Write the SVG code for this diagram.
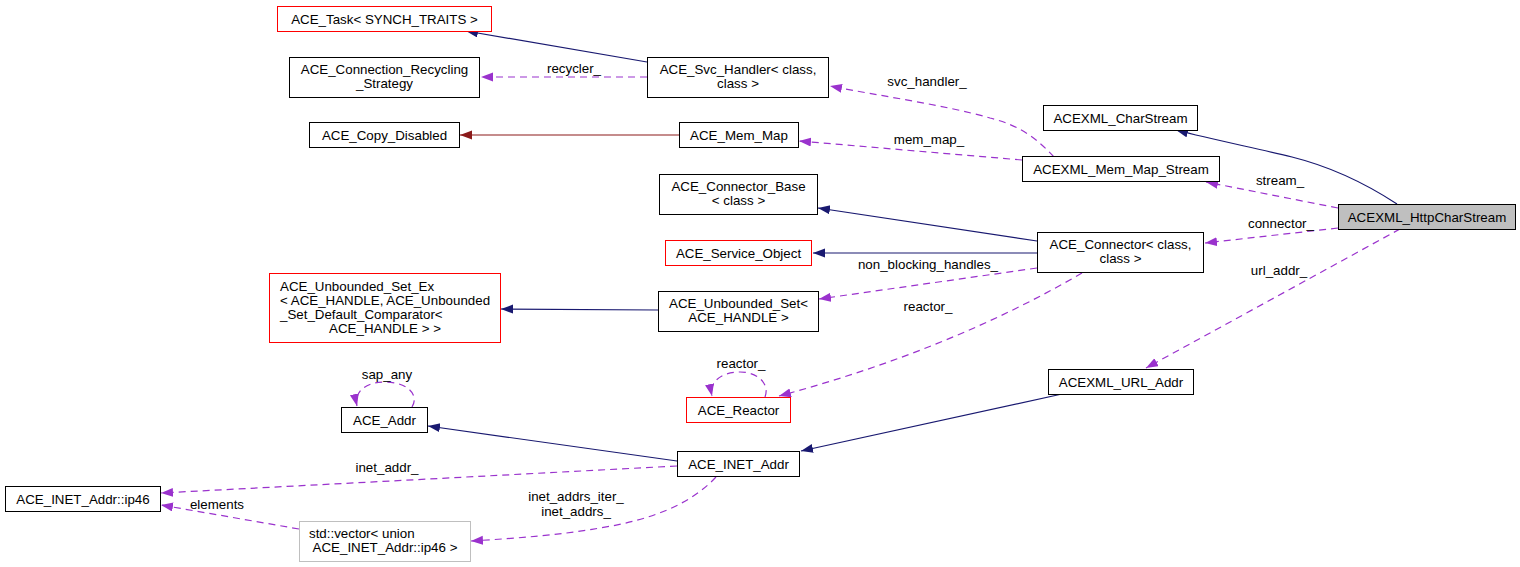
<svg xmlns="http://www.w3.org/2000/svg" width="1520" height="567" viewBox="0 0 1520 567">
<style>
  text { font-family: "Liberation Sans", Arial, sans-serif; font-size: 13.33px; fill: #000; }
  .c { text-anchor: middle; }
  .n rect { fill: #fff; stroke: #000; stroke-width: 1; }
  .n.red rect { stroke: #ff0000; }
  .n.gray rect { stroke: #bfbfbf; }
  .n.cur rect { fill: #bfbfbf; }
  .e { fill: none; stroke-width: 1.2; }
  .inh { stroke: #191970; marker-end: url(#aNavy); }
  .priv { stroke: #8b1a1a; marker-end: url(#aRed); }
  .use { stroke: #9a32cd; stroke-dasharray: 7,5; marker-end: url(#aPurple); }
</style>
<defs>
  <marker id="aNavy" markerUnits="userSpaceOnUse" markerWidth="14" markerHeight="10" refX="12" refY="4.5" orient="auto">
    <path d="M0,0 L12,4.5 L0,9 z" fill="#191970"/>
  </marker>
  <marker id="aRed" markerUnits="userSpaceOnUse" markerWidth="14" markerHeight="10" refX="12" refY="4.5" orient="auto">
    <path d="M0,0 L12,4.5 L0,9 z" fill="#8b1a1a"/>
  </marker>
  <marker id="aPurple" markerUnits="userSpaceOnUse" markerWidth="14" markerHeight="10" refX="12" refY="4.5" orient="auto">
    <path d="M0,0 L12,4.5 L0,9 z" fill="#9a32cd"/>
  </marker>
</defs>
<rect width="1520" height="567" fill="#fff"/>

<g id="connectors">
  <path class="e inh" d="M647,62 L466,31"/>
  <path class="e use" d="M647,77 L481,77"/>
  <text class="c" x="574" y="73">recycler_</text>
  <path class="e priv" d="M679,135 L460,135"/>
  <path class="e use" d="M1054,157 C1038,140 1022,126 990,118 C945,105 880,96 830,86"/>
  <text class="c" x="927" y="86">svc_handler_</text>
  <path class="e use" d="M1022,160 L799,141"/>
  <text class="c" x="929" y="144">mem_map_</text>
  <path class="e inh" d="M1397,204 C1368,185 1332,167 1292,157 C1255,148 1215,140 1176,130"/>
  <path class="e use" d="M1338,208 L1206,182"/>
  <text class="c" x="1280" y="185">stream_</text>
  <path class="e use" d="M1338,228 L1205,243"/>
  <text class="c" x="1281" y="228">connector_</text>
  <path class="e use" d="M1400,229 L1146,368"/>
  <text class="c" x="1279" y="275">url_addr_</text>
  <path class="e inh" d="M1037,241 L818,208"/>
  <path class="e inh" d="M1037,253 L813,253"/>
  <path class="e use" d="M1037,268 L819,299"/>
  <text class="c" x="928" y="269">non_blocking_handles_</text>
  <path class="e use" d="M1082,273 Q950,350 779,396"/>
  <text class="c" x="928" y="311">reactor_</text>
  <path class="e use" d="M765,397 C770,384 758,372 740,372 C721,372 709,382 712,396"/>
  <text class="c" x="741" y="368">reactor_</text>
  <path class="e inh" d="M658,310 L501,309"/>
  <path class="e inh" d="M1062,394 L801,451"/>
  <path class="e inh" d="M677,461 L428,426"/>
  <path class="e use" d="M412,407 C420,394 406,382 385,382 C364,382 354,393 357,406"/>
  <text class="c" x="387" y="379">sap_any</text>
  <path class="e use" d="M677,466 L161,493"/>
  <text class="c" x="387" y="472">inet_addr_</text>
  <path class="e use" d="M299,529 L161,505"/>
  <text class="c" x="217" y="509">elements</text>
  <path class="e use" d="M716,477 C690,505 650,520 600,528 C560,535 520,538 471,541"/>
  <text class="c" x="576" y="501">inet_addrs_iter_</text>
  <text class="c" x="576" y="516">inet_addrs_</text>
</g>

<g id="n_ace_task" class="n red">
  <rect x="277.5" y="6.5" width="214" height="25"/>
  <text class="c" x="384.5" y="23.5">ACE_Task&lt; SYNCH_TRAITS &gt;</text>
</g>
<g id="n_recycling" class="n">
  <rect x="289.5" y="57.5" width="190" height="40"/>
  <text class="c" x="384.5" y="73.5">ACE_Connection_Recycling</text>
  <text class="c" x="384.5" y="87.5">_Strategy</text>
</g>
<g id="n_svc_handler" class="n">
  <rect x="647.5" y="57.5" width="181" height="40"/>
  <text class="c" x="738" y="73.5">ACE_Svc_Handler&lt; class,</text>
  <text class="c" x="738" y="87.5">class &gt;</text>
</g>
<g id="n_copy_disabled" class="n">
  <rect x="309.5" y="122.5" width="150" height="25"/>
  <text class="c" x="384.5" y="139.5">ACE_Copy_Disabled</text>
</g>
<g id="n_mem_map" class="n">
  <rect x="679.5" y="122.5" width="119" height="25"/>
  <text class="c" x="739" y="139.5">ACE_Mem_Map</text>
</g>
<g id="n_charstream" class="n">
  <rect x="1043.5" y="105.5" width="154" height="25"/>
  <text class="c" x="1120.5" y="122.5">ACEXML_CharStream</text>
</g>
<g id="n_mem_map_stream" class="n">
  <rect x="1022.5" y="156.5" width="197" height="25"/>
  <text class="c" x="1121" y="173.5">ACEXML_Mem_Map_Stream</text>
</g>
<g id="n_http" class="n cur">
  <rect x="1338.5" y="204.5" width="177" height="25"/>
  <text class="c" x="1427" y="221.5">ACEXML_HttpCharStream</text>
</g>
<g id="n_connector_base" class="n">
  <rect x="659.5" y="174.5" width="158" height="40"/>
  <text class="c" x="738.5" y="190.5">ACE_Connector_Base</text>
  <text class="c" x="738.5" y="204.5">&lt; class &gt;</text>
</g>
<g id="n_connector" class="n">
  <rect x="1037.5" y="232.5" width="166" height="40"/>
  <text class="c" x="1120.5" y="248.5">ACE_Connector&lt; class,</text>
  <text class="c" x="1120.5" y="262.5">class &gt;</text>
</g>
<g id="n_service_object" class="n red">
  <rect x="665.5" y="240.5" width="146" height="25"/>
  <text class="c" x="738.5" y="257.5">ACE_Service_Object</text>
</g>
<g id="n_unbounded_ex" class="n red">
  <rect x="269.5" y="273.5" width="231" height="69"/>
  <text x="280" y="290.5">ACE_Unbounded_Set_Ex</text>
  <text x="280" y="304.5">&lt; ACE_HANDLE, ACE_Unbounded</text>
  <text x="280" y="318.5">_Set_Default_Comparator&lt;</text>
  <text class="c" x="385" y="332.5">ACE_HANDLE &gt; &gt;</text>
</g>
<g id="n_unbounded" class="n">
  <rect x="658.5" y="291.5" width="160" height="40"/>
  <text class="c" x="738.5" y="307.5">ACE_Unbounded_Set&lt;</text>
  <text class="c" x="738.5" y="321.5">ACE_HANDLE &gt;</text>
</g>
<g id="n_addr" class="n">
  <rect x="341.5" y="407.5" width="86" height="25"/>
  <text class="c" x="384.5" y="424.5">ACE_Addr</text>
</g>
<g id="n_reactor" class="n red">
  <rect x="686.5" y="397.5" width="104" height="25"/>
  <text class="c" x="738.5" y="414.5">ACE_Reactor</text>
</g>
<g id="n_url_addr" class="n">
  <rect x="1048.5" y="369.5" width="145" height="25"/>
  <text class="c" x="1121" y="386.5">ACEXML_URL_Addr</text>
</g>
<g id="n_inet_addr" class="n">
  <rect x="677.5" y="451.5" width="122" height="25"/>
  <text class="c" x="738.5" y="468.5">ACE_INET_Addr</text>
</g>
<g id="n_ip46" class="n">
  <rect x="5.5" y="486.5" width="155" height="25"/>
  <text class="c" x="83" y="503.5">ACE_INET_Addr::ip46</text>
</g>
<g id="n_vector" class="n gray">
  <rect x="299.5" y="521.5" width="171" height="40"/>
  <text x="309" y="537.5">std::vector&lt; union</text>
  <text class="c" x="385" y="551.5">ACE_INET_Addr::ip46 &gt;</text>
</g>
</svg>
